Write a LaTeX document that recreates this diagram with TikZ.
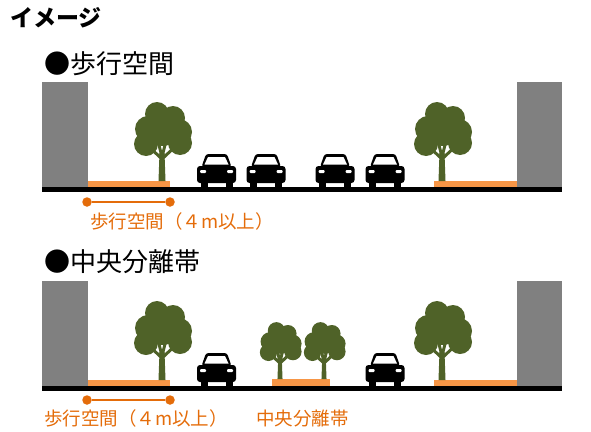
\documentclass[tikz,border=0pt]{standalone}
\usepackage{fontspec}
\newfontfamily\jp{Noto Sans CJK JP}
\definecolor{leafgreen}{HTML}{4F6228}
\definecolor{walkorange}{HTML}{F79646}
\definecolor{markorange}{HTML}{E46C0A}
\definecolor{wallgray}{HTML}{808080}
\begin{document}
\begin{tikzpicture}[x=1pt,y=-1pt,
  title/.style={inner sep=0,anchor=base west,font=\jp\bfseries\fontsize{23}{23}\selectfont},
  head/.style={inner sep=0,anchor=base west,font=\jp\fontsize{26}{26}\selectfont},
  lbl/.style={inner sep=0,anchor=base west,text=markorange,font=\jp\fontsize{18.5}{18.5}\selectfont},
  dot/.style={circle,fill=markorange,inner sep=0,minimum size=9.5pt},
  dim/.style={markorange,line width=2pt},
  pics/car/.style={code={
    % body, wheels, cabin
    \fill[rounded corners=3] (-19.5,-4) rectangle (19.5,-21);
    \fill (-16,0) rectangle (-9,-5);
    \fill (9,0) rectangle (16,-5);
    \fill[rounded corners=2.5] (-15,-20) -- (-10.5,-33) -- (10.5,-33) -- (15,-20) -- cycle;
    % windshield and lamps
    \fill[white] (-12,-22.5) -- (-8.5,-30) -- (8.5,-30) -- (12,-22.5) -- cycle;
    \fill[white,rounded corners=1] (-16.5,-14) rectangle (-10.5,-17);
    \fill[white,rounded corners=1] (10.5,-14) rectangle (16.5,-17);
  }},
  pics/tree/.style={code={
    % trunk and branches
    \fill[leafgreen] (-3.5,0) -- (-2.5,-28) -- (2.5,-28) -- (3.5,0) -- cycle;
    \draw[leafgreen,line width=3pt,line cap=round] (0,-22) -- (-15,-36) (0,-24) -- (-5,-44)
      (0,-24) -- (5,-44) (0,-22) -- (16,-37);
    % crown
    \fill[leafgreen] (-5,-67) circle (12) (11,-63) circle (12) (-14,-52) circle (13)
      (17,-49) circle (13) (-16,-37) circle (12) (18,-38) circle (12) (1,-50) circle (15);
  }}]
\useasboundingbox (0,0) rectangle (591,431);

%titles
\node[title] (title) at (10,26) {イメージ};
\node[head] (head1) at (44,73) {●歩行空間};
\node[head] (head2) at (44,271) {●中央分離帯};

%upper street
\fill[wallgray] (42,82) rectangle (88,187);
\fill[wallgray] (517,82) rectangle (562,187);
\fill[walkorange] (88,181) rectangle (170,187);
\fill[walkorange] (434,181) rectangle (517,187);
\fill (42,187) rectangle (562,192);
\pic at (162,181) {tree};
\pic at (442,181) {tree};
\pic at (216.5,187) {car};
\pic at (266,187) {car};
\pic at (335,187) {car};
\pic at (385,187) {car};

%upper width
\node[dot] (w1) at (87,202) {};
\node[dot] (w2) at (170,202) {};
\draw[dim] (w1) -- (w2);
\node[lbl] (walk1) at (90,228.5) {歩行空間（４m以上）};

%lower street
\fill[wallgray] (42,281) rectangle (88,386);
\fill[wallgray] (517,281) rectangle (562,386);
\fill[walkorange] (88,380) rectangle (170,386);
\fill[walkorange] (272,379) rectangle (330,386);
\fill[walkorange] (434,380) rectangle (517,386);
\fill (42,386) rectangle (562,391);
\pic at (162,380) {tree};
\pic[scale=0.72] at (280,379) {tree};
\pic[scale=0.72] at (324,379) {tree};
\pic at (442,380) {tree};
\pic at (216.5,386) {car};
\pic at (385,386) {car};

%lower width
\node[dot] (w3) at (87,400) {};
\node[dot] (w4) at (170,400) {};
\draw[dim] (w3) -- (w4);
\node[lbl] (walk2) at (44,425.5) {歩行空間（４m以上）};
\node[lbl] (median) at (256,425.5) {中央分離帯};
\end{tikzpicture}
\end{document}
